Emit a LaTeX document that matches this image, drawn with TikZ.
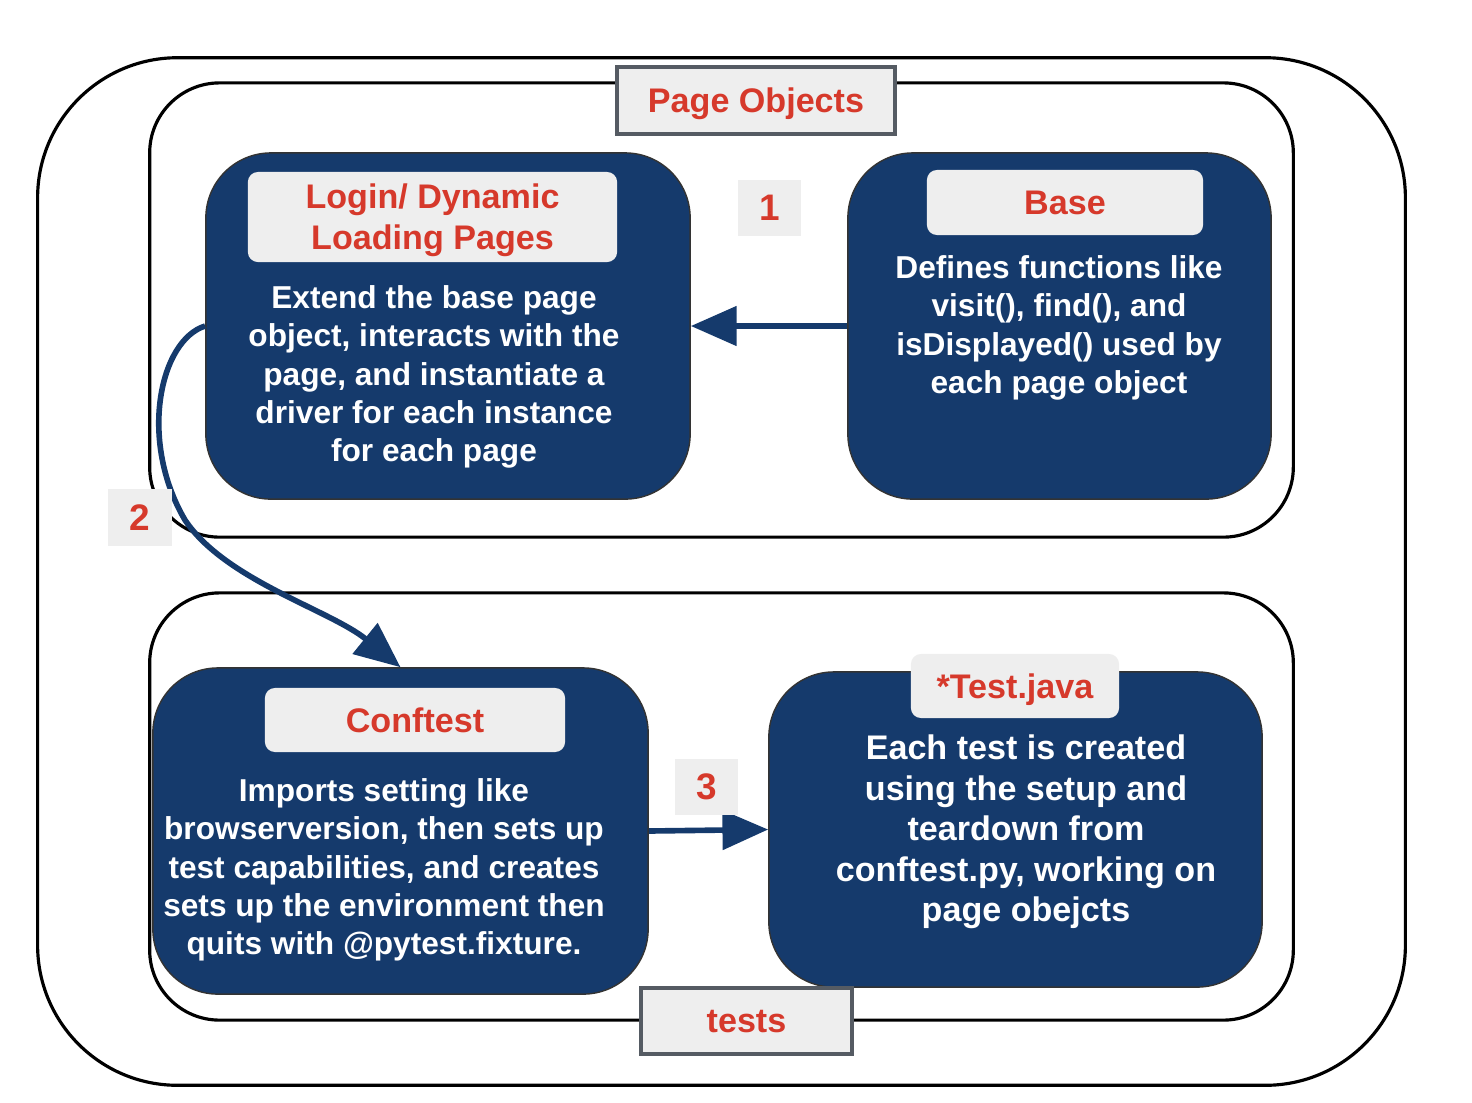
\documentclass[tikz,border=0pt]{standalone}
\usepackage{fontspec}
\setmainfont{Liberation Sans}
\usetikzlibrary{arrows.meta}
\definecolor{navy}{HTML}{153A6C}
\definecolor{tabred}{HTML}{D6392B}
\definecolor{tabgray}{HTML}{EEEEEE}
\definecolor{edgegray}{HTML}{555B63}

\begin{document}
\begin{tikzpicture}
  [x=0.01cm, y=-0.01cm,
   group/.style={draw=black, line width=0.9pt, inner sep=0pt},
   block/.style={fill=navy, draw=black!80, line width=0.4pt, rounded corners=0.65cm, inner sep=0pt},
   heading/.style={fill=tabgray, rounded corners=0.1cm, inner sep=0pt, text=tabred, text depth=0pt,
     font=\fontsize{9.7}{11.7}\selectfont\bfseries, align=center},
   body/.style={text=white, font=\fontsize{9}{10.9}\selectfont\bfseries, align=center},
   tag/.style={fill=tabgray, draw=edgegray, line width=1.1pt, inner sep=0pt, text=tabred, text depth=0pt,
     font=\fontsize{9.7}{11.7}\selectfont\bfseries},
   step label/.style={fill=tabgray, inner sep=0pt, text=tabred,
     font=\fontsize{10.5}{12}\selectfont\bfseries, minimum width=0.63cm, minimum height=0.56cm},
   flow/.style={draw=navy, line width=1.6pt, -{Triangle[length=13pt, width=11pt]}}]
  \useasboundingbox (0,0) rectangle (1472,1102);

  % frames
  \node[group, rounded corners=1.4cm, minimum width=13.67cm, minimum height=10.27cm] (outer) at (721.5,571.5) {};
  \node[group, rounded corners=0.7cm, minimum width=11.43cm, minimum height=4.54cm] (pagegroup) at (721.5,310) {};
  \node[group, rounded corners=0.7cm, minimum width=11.43cm, minimum height=4.27cm] (testgroup) at (721.5,806.5) {};

  % page objects
  \node[block, minimum width=4.84cm, minimum height=3.46cm] (login) at (448,326) {};
  \node[block, minimum width=4.23cm, minimum height=3.46cm] (base) at (1059.5,326) {};
  \node[heading, minimum width=3.69cm, minimum height=0.9cm] (login title) at (432.5,217) {Login/ Dynamic\\Loading Pages};
  \node[heading, minimum width=2.76cm, minimum height=0.65cm] (base title) at (1065,202.5) {Base};
  \node[body] (login text) at (434,377) {Extend the base page\\object, interacts with the\\page, and instantiate a\\driver for each instance\\for each page};
  \node[body] (base text) at (1059,328) {Defines functions like\\visit(), find(), and\\isDisplayed() used by\\each page object};

  % tests
  \node[block, minimum width=4.95cm, minimum height=3.26cm] (conftest) at (400.5,831) {};
  \node[block, minimum width=4.93cm, minimum height=3.15cm] (testjava) at (1015.5,829.5) {};
  \node[heading, minimum width=3.0cm, minimum height=0.64cm] (conftest title) at (415,720) {Conftest};
  \node[heading, minimum width=2.08cm, minimum height=0.64cm] (testjava title) at (1015,686) {*Test.java};
  \node[body] (conftest text) at (384,870) {Imports setting like\\browserversion, then sets up\\test capabilities, and creates\\sets up the environment then\\quits with @pytest.fixture.};
  \node[body, font=\fontsize{9.7}{11.5}\selectfont\bfseries] (testjava text) at (1026,832) {Each test is created\\using the setup and\\teardown from\\conftest.py, working on\\page obejcts};

  % group labels
  \node[tag, minimum width=2.78cm, minimum height=0.67cm] (pagelabel) at (756,100.5) {Page Objects};
  \node[tag, minimum width=2.11cm, minimum height=0.66cm] (testlabel) at (746.5,1021) {tests};

  % steps
  \draw[flow] (base.west) -- (login.east);
  \draw[flow] (login.west) .. controls (160,340) and (138,440) .. (185,520)
    .. controls (225,580) and (330,610) .. (conftest.north);
  \draw[flow] (conftest.east) -- (testjava.west);
  \node[step label] (one) at (769.5,208) {1};
  \node[step label] (two) at (140,517.5) {2};
  \node[step label] (three) at (706.5,787) {3};
\end{tikzpicture}
\end{document}
